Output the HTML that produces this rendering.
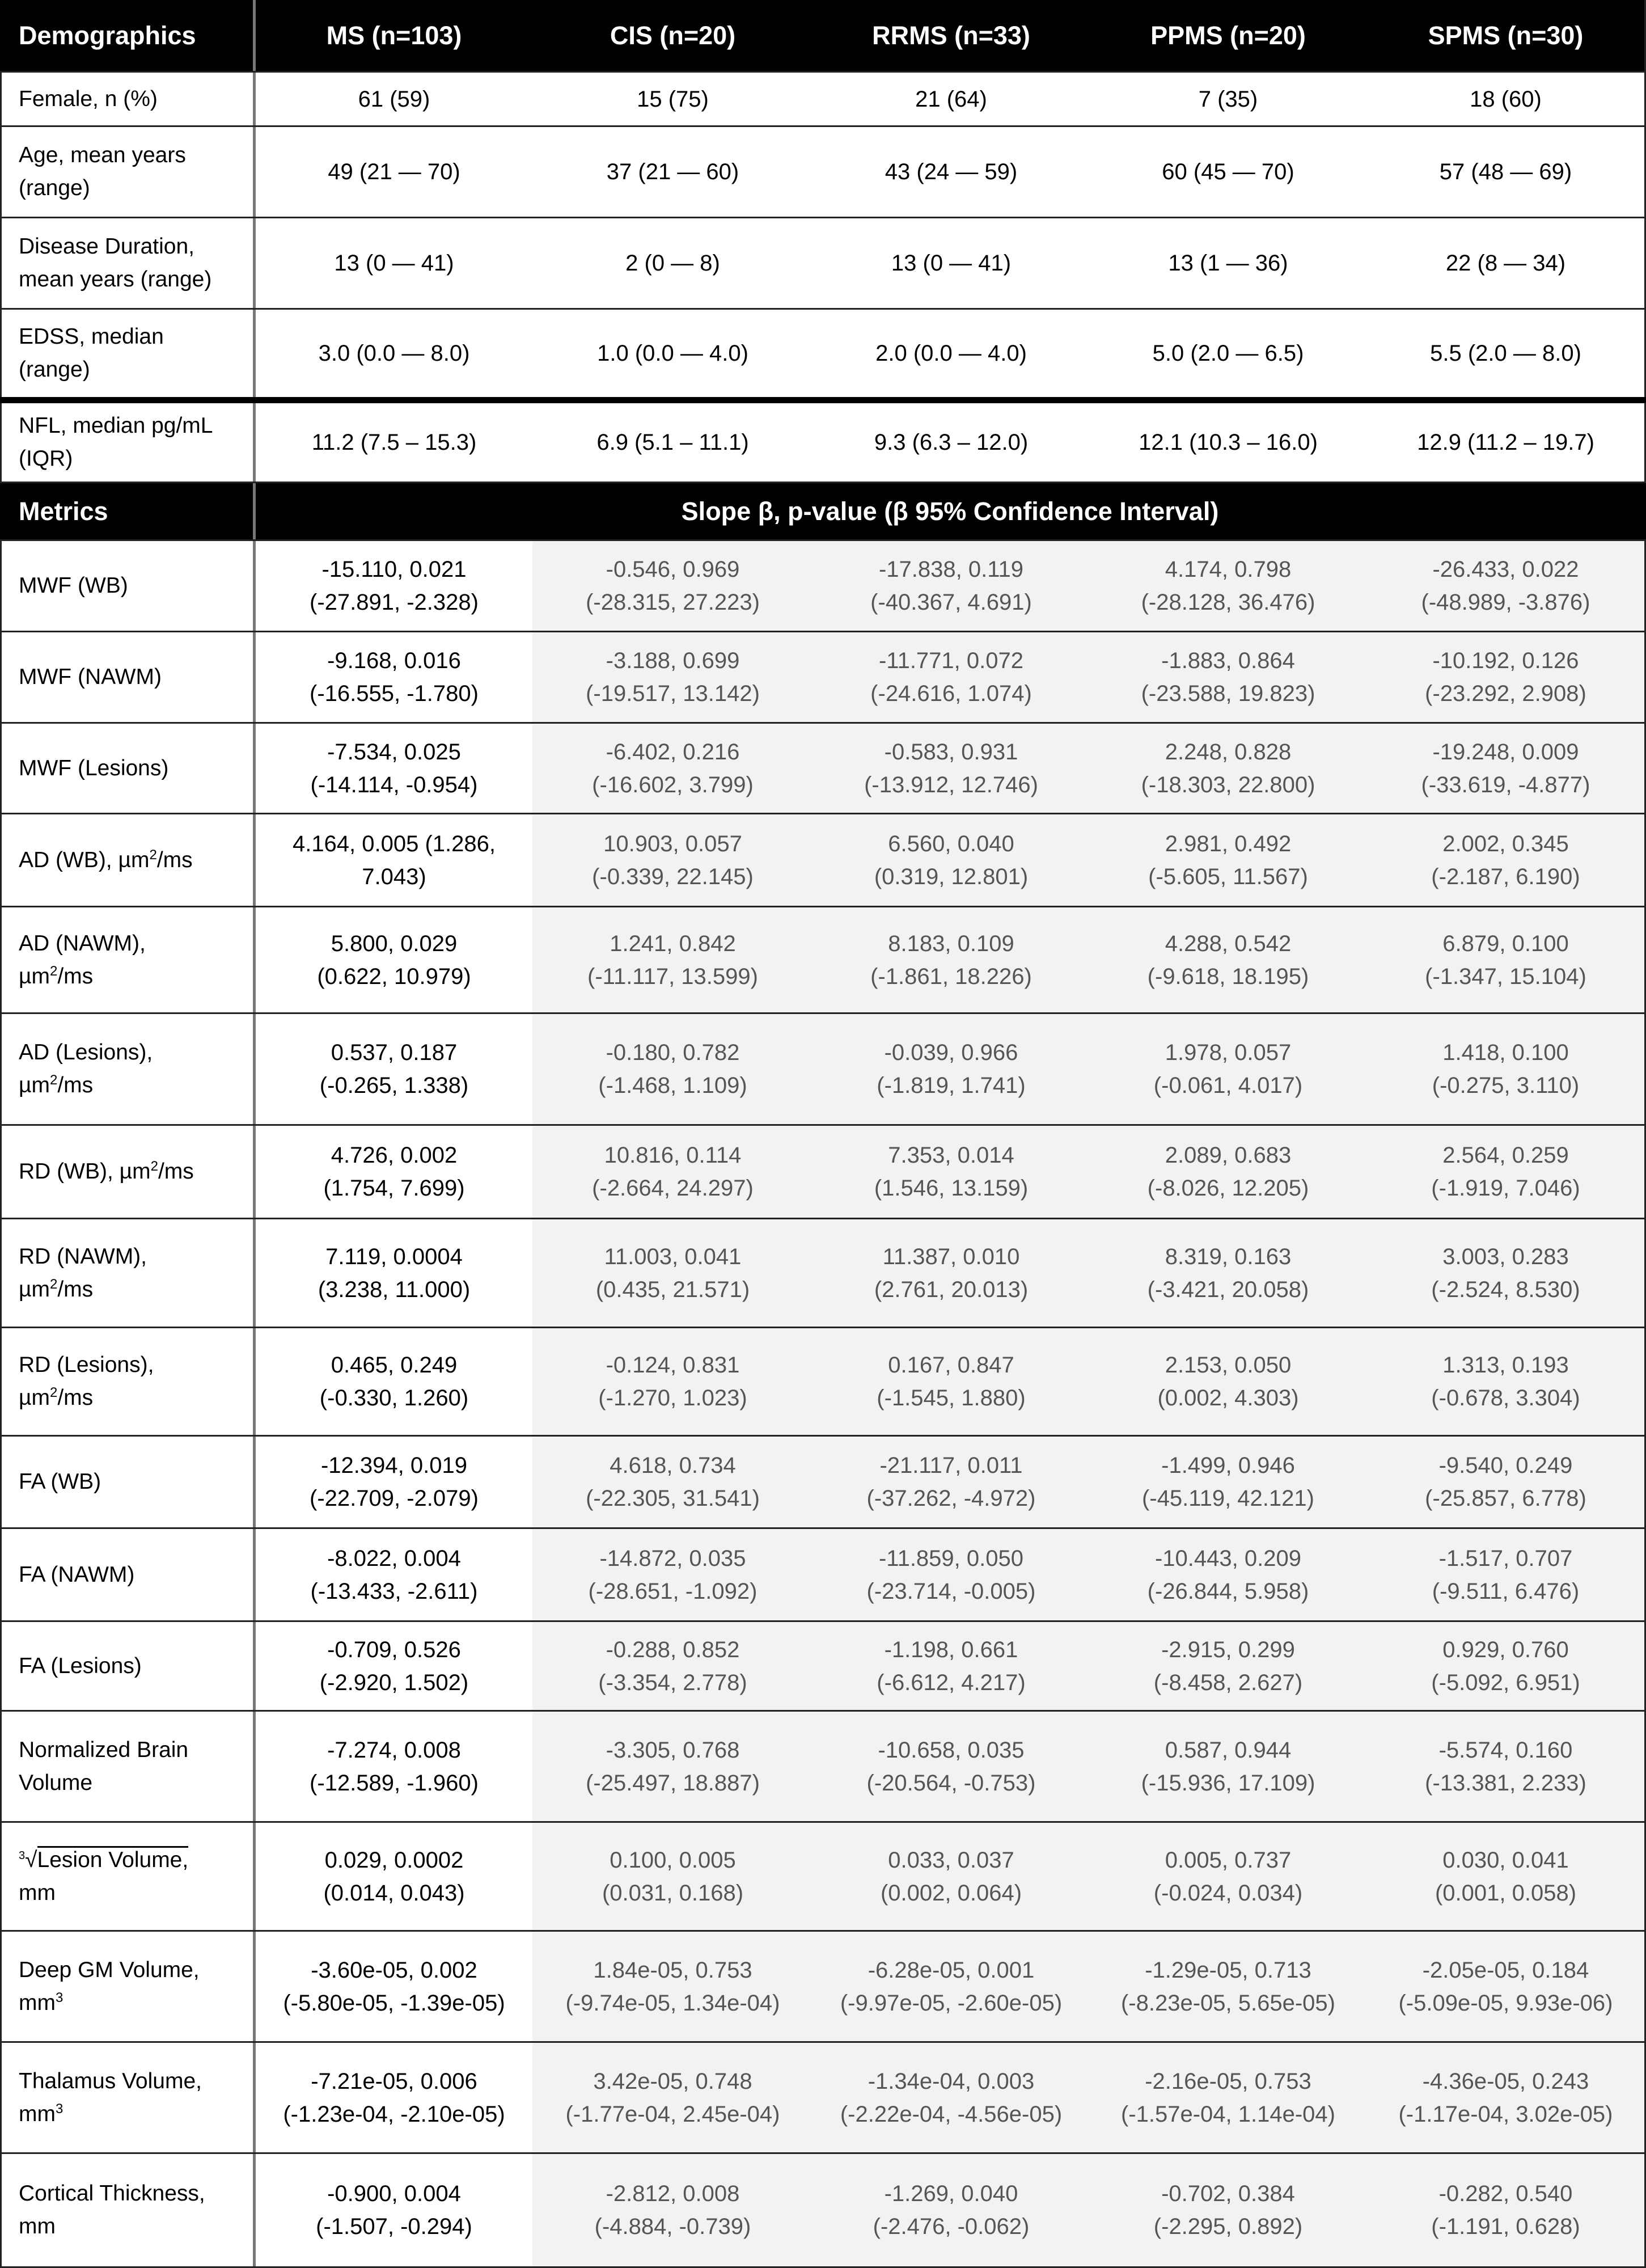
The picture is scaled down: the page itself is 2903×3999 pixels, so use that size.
<!DOCTYPE html>
<html><head><meta charset="utf-8"><style>
*{margin:0;padding:0;box-sizing:border-box}
body{width:2903px;height:3999px;background:#fff;font-family:"Liberation Sans",sans-serif;overflow:hidden}
.r{display:flex;width:2903px;border-bottom:3px solid #222}
.c{display:flex;align-items:center;justify-content:center;text-align:center;font-size:40px;line-height:58px;color:#000}
.c:nth-child(1){width:451px;justify-content:flex-start;text-align:left;padding-left:30px;border-right:5px solid #777;border-left:3px solid #222;font-size:39px}
.c:nth-child(2){width:488px}
.c:nth-child(3){width:495px}
.c:nth-child(4){width:487px}
.c:nth-child(5){width:490px}
.c:nth-child(6){width:492px;border-right:3px solid #222}
.h{background:#000}
.h .c{color:#fff;font-weight:bold;font-size:45px;border-left-color:#000}
.m .c:nth-child(n+3){background:#f2f2f2;color:#555}
sup{font-size:24px;vertical-align:14px;line-height:0}
</style></head><body>
<div class="r h" style="height:128px"><div class="c">Demographics</div><div class="c">MS (n=103)</div><div class="c">CIS (n=20)</div><div class="c">RRMS (n=33)</div><div class="c">PPMS (n=20)</div><div class="c">SPMS (n=30)</div></div>
<div class="r" style="height:96px"><div class="c">Female, n (%)</div><div class="c">61 (59)</div><div class="c">15 (75)</div><div class="c">21 (64)</div><div class="c">7 (35)</div><div class="c">18 (60)</div></div>
<div class="r" style="height:161px"><div class="c">Age, mean years<br>(range)</div><div class="c">49 (21 — 70)</div><div class="c">37 (21 — 60)</div><div class="c">43 (24 — 59)</div><div class="c">60 (45 — 70)</div><div class="c">57 (48 — 69)</div></div>
<div class="r" style="height:161px"><div class="c">Disease Duration,<br>mean years (range)</div><div class="c">13 (0 — 41)</div><div class="c">2 (0 — 8)</div><div class="c">13 (0 — 41)</div><div class="c">13 (1 — 36)</div><div class="c">22 (8 — 34)</div></div>
<div class="r" style="height:165px;border-bottom:11px solid #000"><div class="c">EDSS, median<br>(range)</div><div class="c">3.0 (0.0 — 8.0)</div><div class="c">1.0 (0.0 — 4.0)</div><div class="c">2.0 (0.0 — 4.0)</div><div class="c">5.0 (2.0 — 6.5)</div><div class="c">5.5 (2.0 — 8.0)</div></div>
<div class="r" style="height:141px"><div class="c">NFL, median pg/mL<br>(IQR)</div><div class="c">11.2 (7.5 – 15.3)</div><div class="c">6.9 (5.1 – 11.1)</div><div class="c">9.3 (6.3 – 12.0)</div><div class="c">12.1 (10.3 – 16.0)</div><div class="c">12.9 (11.2 – 19.7)</div></div>
<div class="r h" style="height:102px"><div class="c">Metrics</div><div class="c" style="width:2452px;border-right:3px solid #000">Slope β, p-value (β 95% Confidence Interval)</div></div>
<div class="r m" style="height:161px"><div class="c">MWF (WB)</div><div class="c">-15.110, 0.021<br>(-27.891, -2.328)</div><div class="c">-0.546, 0.969<br>(-28.315, 27.223)</div><div class="c">-17.838, 0.119<br>(-40.367, 4.691)</div><div class="c">4.174, 0.798<br>(-28.128, 36.476)</div><div class="c">-26.433, 0.022<br>(-48.989, -3.876)</div></div>
<div class="r m" style="height:161px"><div class="c">MWF (NAWM)</div><div class="c">-9.168, 0.016<br>(-16.555, -1.780)</div><div class="c">-3.188, 0.699<br>(-19.517, 13.142)</div><div class="c">-11.771, 0.072<br>(-24.616, 1.074)</div><div class="c">-1.883, 0.864<br>(-23.588, 19.823)</div><div class="c">-10.192, 0.126<br>(-23.292, 2.908)</div></div>
<div class="r m" style="height:160px"><div class="c">MWF (Lesions)</div><div class="c">-7.534, 0.025<br>(-14.114, -0.954)</div><div class="c">-6.402, 0.216<br>(-16.602, 3.799)</div><div class="c">-0.583, 0.931<br>(-13.912, 12.746)</div><div class="c">2.248, 0.828<br>(-18.303, 22.800)</div><div class="c">-19.248, 0.009<br>(-33.619, -4.877)</div></div>
<div class="r m" style="height:164px"><div class="c"><div>AD (WB), µm<sup>2</sup>/ms</div></div><div class="c">4.164, 0.005 (1.286,<br>7.043)</div><div class="c">10.903, 0.057<br>(-0.339, 22.145)</div><div class="c">6.560, 0.040<br>(0.319, 12.801)</div><div class="c">2.981, 0.492<br>(-5.605, 11.567)</div><div class="c">2.002, 0.345<br>(-2.187, 6.190)</div></div>
<div class="r m" style="height:188px"><div class="c"><div>AD (NAWM),<br>µm<sup>2</sup>/ms</div></div><div class="c">5.800, 0.029<br>(0.622, 10.979)</div><div class="c">1.241, 0.842<br>(-11.117, 13.599)</div><div class="c">8.183, 0.109<br>(-1.861, 18.226)</div><div class="c">4.288, 0.542<br>(-9.618, 18.195)</div><div class="c">6.879, 0.100<br>(-1.347, 15.104)</div></div>
<div class="r m" style="height:197px"><div class="c"><div>AD (Lesions),<br>µm<sup>2</sup>/ms</div></div><div class="c">0.537, 0.187<br>(-0.265, 1.338)</div><div class="c">-0.180, 0.782<br>(-1.468, 1.109)</div><div class="c">-0.039, 0.966<br>(-1.819, 1.741)</div><div class="c">1.978, 0.057<br>(-0.061, 4.017)</div><div class="c">1.418, 0.100<br>(-0.275, 3.110)</div></div>
<div class="r m" style="height:165px"><div class="c"><div>RD (WB), µm<sup>2</sup>/ms</div></div><div class="c">4.726, 0.002<br>(1.754, 7.699)</div><div class="c">10.816, 0.114<br>(-2.664, 24.297)</div><div class="c">7.353, 0.014<br>(1.546, 13.159)</div><div class="c">2.089, 0.683<br>(-8.026, 12.205)</div><div class="c">2.564, 0.259<br>(-1.919, 7.046)</div></div>
<div class="r m" style="height:192px"><div class="c"><div>RD (NAWM),<br>µm<sup>2</sup>/ms</div></div><div class="c">7.119, 0.0004<br>(3.238, 11.000)</div><div class="c">11.003, 0.041<br>(0.435, 21.571)</div><div class="c">11.387, 0.010<br>(2.761, 20.013)</div><div class="c">8.319, 0.163<br>(-3.421, 20.058)</div><div class="c">3.003, 0.283<br>(-2.524, 8.530)</div></div>
<div class="r m" style="height:191px"><div class="c"><div>RD (Lesions),<br>µm<sup>2</sup>/ms</div></div><div class="c">0.465, 0.249<br>(-0.330, 1.260)</div><div class="c">-0.124, 0.831<br>(-1.270, 1.023)</div><div class="c">0.167, 0.847<br>(-1.545, 1.880)</div><div class="c">2.153, 0.050<br>(0.002, 4.303)</div><div class="c">1.313, 0.193<br>(-0.678, 3.304)</div></div>
<div class="r m" style="height:163px"><div class="c">FA (WB)</div><div class="c">-12.394, 0.019<br>(-22.709, -2.079)</div><div class="c">4.618, 0.734<br>(-22.305, 31.541)</div><div class="c">-21.117, 0.011<br>(-37.262, -4.972)</div><div class="c">-1.499, 0.946<br>(-45.119, 42.121)</div><div class="c">-9.540, 0.249<br>(-25.857, 6.778)</div></div>
<div class="r m" style="height:164px"><div class="c">FA (NAWM)</div><div class="c">-8.022, 0.004<br>(-13.433, -2.611)</div><div class="c">-14.872, 0.035<br>(-28.651, -1.092)</div><div class="c">-11.859, 0.050<br>(-23.714, -0.005)</div><div class="c">-10.443, 0.209<br>(-26.844, 5.958)</div><div class="c">-1.517, 0.707<br>(-9.511, 6.476)</div></div>
<div class="r m" style="height:158px"><div class="c">FA (Lesions)</div><div class="c">-0.709, 0.526<br>(-2.920, 1.502)</div><div class="c">-0.288, 0.852<br>(-3.354, 2.778)</div><div class="c">-1.198, 0.661<br>(-6.612, 4.217)</div><div class="c">-2.915, 0.299<br>(-8.458, 2.627)</div><div class="c">0.929, 0.760<br>(-5.092, 6.951)</div></div>
<div class="r m" style="height:196px"><div class="c">Normalized Brain<br>Volume</div><div class="c">-7.274, 0.008<br>(-12.589, -1.960)</div><div class="c">-3.305, 0.768<br>(-25.497, 18.887)</div><div class="c">-10.658, 0.035<br>(-20.564, -0.753)</div><div class="c">0.587, 0.944<br>(-15.936, 17.109)</div><div class="c">-5.574, 0.160<br>(-13.381, 2.233)</div></div>
<div class="r m" style="height:192px"><div class="c"><div><sup style="font-size:20px">3</sup>√<span style="border-top:3px solid #000">Lesion Volume,</span><br>mm</div></div><div class="c">0.029, 0.0002<br>(0.014, 0.043)</div><div class="c">0.100, 0.005<br>(0.031, 0.168)</div><div class="c">0.033, 0.037<br>(0.002, 0.064)</div><div class="c">0.005, 0.737<br>(-0.024, 0.034)</div><div class="c">0.030, 0.041<br>(0.001, 0.058)</div></div>
<div class="r m" style="height:196px"><div class="c"><div>Deep GM Volume,<br>mm<sup>3</sup></div></div><div class="c">-3.60e-05, 0.002<br>(-5.80e-05, -1.39e-05)</div><div class="c">1.84e-05, 0.753<br>(-9.74e-05, 1.34e-04)</div><div class="c">-6.28e-05, 0.001<br>(-9.97e-05, -2.60e-05)</div><div class="c">-1.29e-05, 0.713<br>(-8.23e-05, 5.65e-05)</div><div class="c">-2.05e-05, 0.184<br>(-5.09e-05, 9.93e-06)</div></div>
<div class="r m" style="height:196px"><div class="c"><div>Thalamus Volume,<br>mm<sup>3</sup></div></div><div class="c">-7.21e-05, 0.006<br>(-1.23e-04, -2.10e-05)</div><div class="c">3.42e-05, 0.748<br>(-1.77e-04, 2.45e-04)</div><div class="c">-1.34e-04, 0.003<br>(-2.22e-04, -4.56e-05)</div><div class="c">-2.16e-05, 0.753<br>(-1.57e-04, 1.14e-04)</div><div class="c">-4.36e-05, 0.243<br>(-1.17e-04, 3.02e-05)</div></div>
<div class="r m" style="height:201px"><div class="c">Cortical Thickness,<br>mm</div><div class="c">-0.900, 0.004<br>(-1.507, -0.294)</div><div class="c">-2.812, 0.008<br>(-4.884, -0.739)</div><div class="c">-1.269, 0.040<br>(-2.476, -0.062)</div><div class="c">-0.702, 0.384<br>(-2.295, 0.892)</div><div class="c">-0.282, 0.540<br>(-1.191, 0.628)</div></div>
</body></html>
